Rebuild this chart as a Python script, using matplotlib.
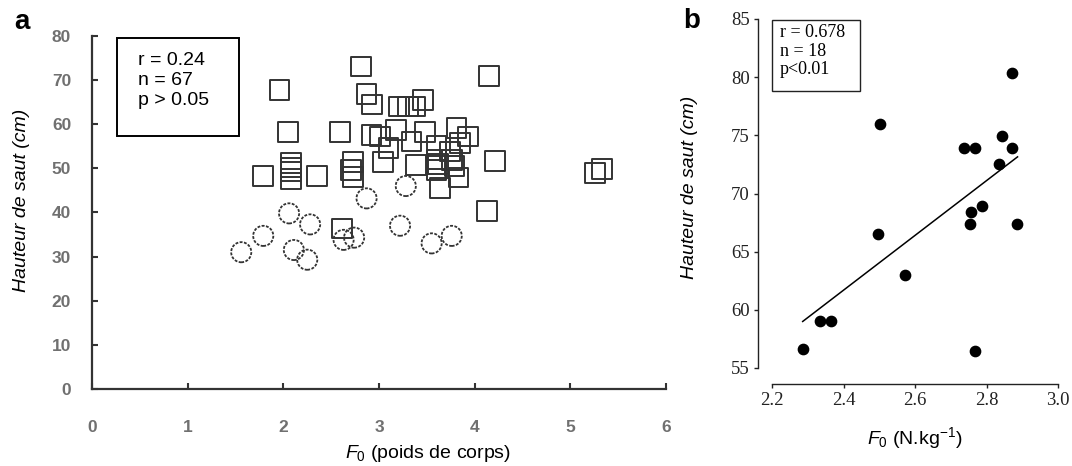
import matplotlib.pyplot as plt
from matplotlib.patches import Rectangle

plt.rcParams['mathtext.fontset'] = 'custom'
plt.rcParams['mathtext.it'] = 'Liberation Sans:italic'
plt.rcParams['mathtext.rm'] = 'Liberation Sans'

# panel a : carres
sq_x = [2.81, 4.15, 1.96, 2.87, 2.93, 3.21, 3.46, 3.38, 3.30, 2.05, 2.59, 3.01, 2.92,
        3.18, 3.48, 3.81, 3.93, 3.10, 3.34, 3.60, 3.74, 3.85, 4.21, 1.79, 2.08, 2.08,
        2.08, 2.08, 2.35, 2.73, 2.71, 2.73, 3.04, 3.39, 3.60, 3.76, 3.83, 3.64, 4.13,
        5.26, 5.33, 2.61, 3.60, 3.62, 3.79]
sq_y = [73.1, 71.0, 67.8, 66.8, 64.5, 64.0, 65.5, 64.0, 64.0, 58.3, 58.3, 57.2, 57.6,
        58.7, 58.3, 59.1, 57.2, 54.6, 56.1, 55.0, 53.8, 55.7, 51.7, 48.3, 51.2, 50.2,
        49.3, 47.6, 48.3, 51.4, 49.6, 48.1, 51.5, 50.8, 49.7, 51.9, 47.9, 45.5, 40.4,
        49.0, 49.8, 36.4, 52.0, 51.0, 50.5]
# panel a : cercles
ci_x = [3.28, 2.87, 2.06, 2.28, 1.79, 1.56, 2.11, 2.25, 2.63, 2.74, 3.22, 3.55, 3.76]
ci_y = [46.0, 43.2, 39.8, 37.3, 34.7, 31.0, 31.5, 29.3, 33.8, 34.3, 37.0, 33.0, 34.7]

# panel b
b_x = [2.871, 2.501, 2.736, 2.766, 2.842, 2.871, 2.834, 2.756, 2.787, 2.753, 2.884,
       2.495, 2.570, 2.333, 2.365, 2.286, 2.766]
b_y = [80.4, 75.95, 73.95, 73.95, 74.9, 73.95, 72.5, 68.4, 68.9, 67.4, 67.4,
       66.5, 63.0, 59.05, 59.05, 56.6, 56.45]
fit_x = [2.285, 2.886]
fit_y = [59.0, 73.15]

W, H = 1072, 466
fig = plt.figure(figsize=(W / 100, H / 100), dpi=100)

# ---------- a ----------
ax1 = fig.add_axes([92 / W, 1 - 389 / H, 574 / W, 353 / H])
ax1.scatter(sq_x, sq_y, marker='s', s=200, facecolors='none', edgecolors='#333333',
            linewidths=1.4, clip_on=False, zorder=3)
ax1.scatter(ci_x, ci_y, marker='o', s=210, facecolors='none', edgecolors='#333333',
            linewidths=1.3, linestyles=(0, (1.6, 0.8)), clip_on=False, zorder=3)
ax1.set_xlim(0, 6)
ax1.set_ylim(0, 80)
ax1.spines['top'].set_visible(False)
ax1.spines['right'].set_visible(False)
for s in ['left', 'bottom']:
    ax1.spines[s].set_linewidth(1.6)
    ax1.spines[s].set_color('#333333')
ax1.set_xticks(range(0, 7))
ax1.set_yticks(range(0, 81, 10))
ax1.tick_params(axis='x', direction='in', length=4, width=1.5, color='#333333', pad=22,
                labelsize=12.5, labelcolor='#707070')
ax1.tick_params(axis='y', direction='in', length=4, width=1.5, color='#333333', pad=15,
                labelsize=12.5, labelcolor='#707070')
for lab in ax1.get_xticklabels() + ax1.get_yticklabels():
    lab.set_fontweight('bold')
    lab.set_family('Liberation Sans')

ax1.add_patch(Rectangle((0.0436, 0.717), 0.2125, 0.277, transform=ax1.transAxes,
                        facecolor='white', edgecolor='black', linewidth=1.4, zorder=4))
ax1.text(0.081, 0.955, 'r = 0.24\nn = 67\np > 0.05', transform=ax1.transAxes,
         va='top', ha='left', fontsize=14, family='Liberation Sans', linespacing=1.25,
         zorder=5)

fig.text(22 / W, 1 - 200 / H, 'Hauteur de saut (cm)', rotation=90, ha='center',
         va='center', fontsize=14, family='Liberation Sans', style='italic')
fig.text(428 / W, 1 - 453 / H, r'$F_{\mathit{0}}$ (poids de corps)', ha='center',
         va='center', fontsize=14, family='Liberation Sans')
fig.text(22 / W, 1 - 22 / H, 'a', ha='center', va='center', fontsize=20,
         fontweight='bold', family='Liberation Sans')

# ---------- b ----------
ax2 = fig.add_axes([772.3 / W, 1 - 368 / H, 286 / W, 349 / H])
ax2.scatter(b_x, b_y, s=55, color='black', zorder=3, clip_on=False)
ax2.plot(fit_x, fit_y, color='black', linewidth=1.1)
ax2.set_xlim(2.2, 3.0)
ax2.set_ylim(55, 85)
ax2.spines['top'].set_visible(False)
ax2.spines['right'].set_visible(False)
ax2.spines['left'].set_position(('outward', 10.3))
ax2.spines['bottom'].set_position(('outward', 11.5))
for s in ['left', 'bottom']:
    ax2.spines[s].set_linewidth(1.0)
    ax2.spines[s].set_color('#222222')
ax2.set_xticks([2.2, 2.4, 2.6, 2.8, 3.0])
ax2.set_xticklabels(['2.2', '2.4', '2.6', '2.8', '3.0'])
ax2.set_yticks([55, 60, 65, 70, 75, 80, 85])
ax2.tick_params(direction='out', length=3, width=1, color='#222222', labelsize=13.5,
                labelcolor='#222222', pad=3)
for lab in ax2.get_xticklabels() + ax2.get_yticklabels():
    lab.set_family('Liberation Serif')

ax2.add_patch(Rectangle((0.0, 0.794), 0.307, 0.203, transform=ax2.transAxes,
                        facecolor='white', edgecolor='#222222', linewidth=1.0,
                        zorder=4, clip_on=False))
ax2.text(0.027, 0.985, 'r = 0.678\nn = 18\np<0.01', transform=ax2.transAxes,
         va='top', ha='left', fontsize=13, family='Liberation Serif',
         linespacing=1.1, zorder=5)

fig.text(690 / W, 1 - 187 / H, 'Hauteur de saut (cm)', rotation=90, ha='center',
         va='center', fontsize=14, family='Liberation Sans', style='italic')
fig.text(915 / W, 1 - 438 / H, r'$F_{\mathit{0}}$ (N.kg$^{-1}$)', ha='center',
         va='center', fontsize=14, family='Liberation Sans')
fig.text(692 / W, 1 - 21 / H, 'b', ha='center', va='center', fontsize=20,
         fontweight='bold', family='Liberation Sans')

fig.savefig('out.png', dpi=100)
